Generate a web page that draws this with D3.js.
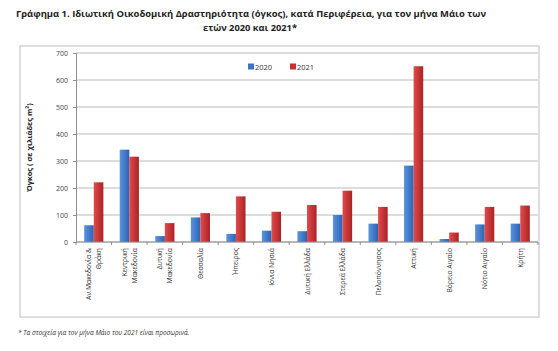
<!DOCTYPE html>
<html>
<head>
<meta charset="utf-8">
<script src="https://cdn.jsdelivr.net/npm/d3@7"></script>
<style>
  body { margin: 0; background: white; }
  text { font-family: "Open Sans", "DejaVu Sans", sans-serif; }
</style>
</head>
<body>
<div id="container"></div>
<script>
let w = 558;
let h = 351;

// regions (multi-line labels are split with "|")
let regions = ["Αν.Μακεδονία &|Θράκη", "Κεντρική|Μακεδονία", "Δυτική|Μακεδονία", "Θεσσαλία",
  "Ήπειρος", "Ιόνια Νησιά", "Δυτική Ελλάδα", "Στερεά Ελλάδα", "Πελοπόννησος",
  "Αττική", "Βόρειο Αιγαίο", "Νότιο Αιγαίο", "Κρήτη"];
let values2020 = [62, 342, 22, 91, 30, 42, 40, 100, 68, 283, 11, 65, 68];
let values2021 = [221, 316, 70, 107, 169, 112, 137, 190, 130, 651, 35, 130, 135];
let seriesNames = ["2020", "2021"];
let yTicks = [0, 100, 200, 300, 400, 500, 600, 700];

let plotLeft = 76, plotRight = 538, plotTop = 53, plotBottom = 242;

let viz = d3.select("#container")
  .append("svg")
    .attr("width", w)
    .attr("height", h)
    .style("background-color", "white")
;

// gradients for the bars
let defs = viz.append("defs");
function makeGrad(id, c1, c2){
  let g = defs.append("linearGradient").attr("id", id)
    .attr("x1", "0%").attr("x2", "100%").attr("y1", "0%").attr("y2", "0%");
  g.append("stop").attr("offset", "0%").attr("stop-color", c1);
  g.append("stop").attr("offset", "100%").attr("stop-color", c2);
}
makeGrad("gBlue", "#5b95dc", "#2c62b4");
makeGrad("gRed", "#e34a4a", "#a92326");
let fills = ["url(#gBlue)", "url(#gRed)"];
let solid = ["#3a74c6", "#c93135"];

// title
viz.append("text")
  .attr("x", 16).attr("y", 17)
  .attr("font-size", 9.5).attr("font-weight", "bold").attr("fill", "#222")
  .attr("textLength", 470).attr("lengthAdjust", "spacingAndGlyphs")
  .text("Γράφημα 1. Ιδιωτική Οικοδομική Δραστηριότητα (όγκος), κατά Περιφέρεια, για τον μήνα  Μάιο των");
viz.append("text")
  .attr("x", 203).attr("y", 31)
  .attr("font-size", 9.5).attr("font-weight", "bold").attr("fill", "#222")
  .attr("textLength", 94).attr("lengthAdjust", "spacingAndGlyphs")
  .text("ετών 2020 και 2021*");

// frame
viz.append("rect")
  .attr("x", 20).attr("y", 46).attr("width", 519).attr("height", 271)
  .attr("fill", "none").attr("stroke", "#c8c8c8").attr("stroke-width", 1.2);

let yScale = d3.scaleLinear().domain([0, 700]).range([plotBottom, plotTop]);
let xScale = d3.scaleBand().domain(regions).range([plotLeft, plotRight]).paddingInner(0.46).paddingOuter(0.23);
let xSub = d3.scaleBand().domain(seriesNames).range([0, xScale.bandwidth()]);

// grid
viz.append("g").selectAll("line").data(yTicks).enter()
  .append("line")
    .attr("x1", plotLeft).attr("x2", plotRight)
    .attr("y1", d => yScale(d)).attr("y2", d => yScale(d))
    .attr("stroke", "#a8a8a8").attr("stroke-width", 0.8);

// y axis
let yAxis = viz.append("g")
  .attr("transform", "translate(" + plotLeft + ",0)")
  .call(d3.axisLeft(yScale).tickValues(yTicks).tickSize(3).tickPadding(5));
yAxis.select(".domain").attr("stroke", "#909090");
yAxis.selectAll(".tick line").attr("stroke", "#909090");
yAxis.selectAll("text").attr("font-size", 7).attr("fill", "#444")
  .style("font-family", "'Open Sans', sans-serif");

viz.append("text")
  .attr("transform", "translate(32," + ((plotTop + plotBottom) / 2) + ") rotate(-90)")
  .attr("text-anchor", "middle")
  .attr("font-size", 7.5).attr("font-weight", "bold").attr("fill", "#222")
  .text("Όγκος ( σε χιλιάδες m³)");

// bars
let groups = viz.selectAll(".datagroup").data(regions).enter()
  .append("g")
  .classed("datagroup", true)
  .attr("transform", d => "translate(" + xScale(d) + ",0)");

groups.selectAll("rect")
  .data((d, i) => [values2020[i], values2021[i]])
  .enter()
  .append("rect")
    .attr("x", (d, j) => xSub(seriesNames[j]))
    .attr("width", xSub.bandwidth())
    .attr("y", d => yScale(d))
    .attr("height", d => plotBottom - yScale(d))
    .attr("fill", (d, j) => fills[j]);

// x axis with category boundary ticks
viz.append("line")
  .attr("x1", plotLeft).attr("x2", plotRight).attr("y1", plotBottom).attr("y2", plotBottom)
  .attr("stroke", "#909090");
let bounds = d3.range(regions.length + 1).map(i => plotLeft + i * (plotRight - plotLeft) / regions.length);
viz.append("g").selectAll("line").data(bounds).enter()
  .append("line")
    .attr("x1", d => d).attr("x2", d => d)
    .attr("y1", plotBottom).attr("y2", plotBottom + 3)
    .attr("stroke", "#909090");

// x labels, rotated
let labels = viz.selectAll(".xlabel").data(regions).enter()
  .append("text")
  .classed("xlabel", true)
  .attr("transform", d => "translate(" + (xScale(d) + xScale.bandwidth() / 2) + "," + (plotBottom + 6) + ") rotate(-90)")
  .attr("text-anchor", "end")
  .attr("font-size", 6.8).attr("fill", "#333");
labels.each(function(d){
  let parts = d.split("|");
  let t = d3.select(this);
  parts.forEach(function(p, k){
    t.append("tspan")
      .attr("x", 0)
      .attr("dy", k == 0 ? (parts.length == 1 ? 2.5 : -2.5) : 10)
      .text(p);
  });
});

// legend
let legend = viz.append("g").attr("transform", "translate(248,67)");
let lx = [0, 42];
seriesNames.forEach(function(s, i){
  legend.append("rect").attr("x", lx[i]).attr("y", -3.5).attr("width", 6).attr("height", 6).attr("fill", solid[i]);
  legend.append("text").attr("x", lx[i] + 7).attr("y", 2.5)
    .attr("font-size", 7.5).attr("fill", "#333").text(s);
});

// footnote
viz.append("text")
  .attr("x", 18).attr("y", 335)
  .attr("font-size", 6.5).attr("font-style", "italic").attr("fill", "#333")
  .text("* Τα στοιχεία για τον μήνα Μάιο του 2021 είναι προσωρινά.");
</script>
</body>
</html>
